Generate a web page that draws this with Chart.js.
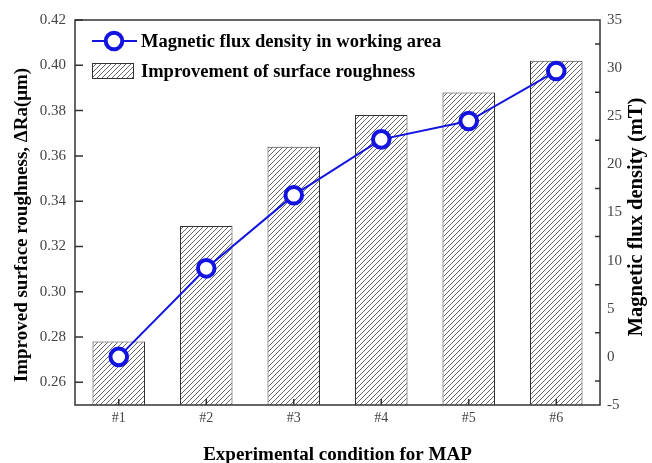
<!DOCTYPE html>
<html>
<head>
<meta charset="utf-8">
<script src="https://cdn.jsdelivr.net/npm/chart.js@4.4.0/dist/chart.umd.min.js"></script>
<style>
  html, body { margin: 0; padding: 0; background: #fff; }
</style>
</head>
<body>
<canvas id="mapChart" width="652" height="463"></canvas>
<script>
// MAP conditions vs. roughness improvement (bars) and flux density (line)
const conditions = ["#1", "#2", "#3", "#4", "#5", "#6"];
const roughnessGain = [0.278, 0.329, 0.364, 0.378, 0.388, 0.402];
const fluxDensity = [0.0, 9.2, 16.8, 22.6, 24.5, 29.7];
const roughnessTicks = [0.26, 0.28, 0.30, 0.32, 0.34, 0.36, 0.38, 0.40, 0.42];
const fluxTicks = [-5, 0, 5, 10, 15, 20, 25, 30, 35];
const fluxTickMarks = [-2.5, 2.5, 7.5, 12.5, 17.5, 22.5, 27.5, 32.5];

const serif = "'Liberation Serif', 'Times New Roman', serif";
const BLUE = "#1414e0";
const FRAME = "#333";

const canvas = document.getElementById("mapChart");
const ctx = canvas.getContext("2d");

// diagonal "////" fill for the bars
function makeHatch() {
  const size = 5;
  const tile = document.createElement("canvas");
  tile.width = size;
  tile.height = size;
  const g = tile.getContext("2d");
  g.fillStyle = "#fff";
  g.fillRect(0, 0, size, size);
  g.strokeStyle = "#555";
  g.lineWidth = 0.9;
  g.beginPath();
  g.moveTo(0, size); g.lineTo(size, 0);
  g.moveTo(-1, 1); g.lineTo(1, -1);
  g.moveTo(size - 1, size + 1); g.lineTo(size + 1, size - 1);
  g.stroke();
  return ctx.createPattern(tile, "repeat");
}
const hatch = makeHatch();

// rotated axis title, reading bottom to top
function sideTitle(ctx, text, x, y, size) {
  ctx.save();
  ctx.translate(x, y);
  ctx.rotate(-Math.PI / 2);
  ctx.textAlign = "center";
  ctx.textBaseline = "middle";
  ctx.fillStyle = "#000";
  ctx.font = "bold " + size + "px " + serif;
  ctx.fillText(text, 0, 0);
  ctx.restore();
}

// frame, inward tick marks, legend and the two y axis titles
const decorations = {
  id: "decorations",
  afterDatasetsDraw(chart) {
    const { ctx, chartArea: a, scales } = chart;
    ctx.save();
    ctx.strokeStyle = FRAME;
    ctx.lineWidth = 1.5;
    ctx.strokeRect(a.left, a.top, a.right - a.left, a.bottom - a.top);
    ctx.beginPath();
    roughnessTicks.forEach(v => {
      const y = scales.y.getPixelForValue(v);
      ctx.moveTo(a.left, y); ctx.lineTo(a.left + 8, y);
    });
    fluxTickMarks.forEach(v => {
      const y = scales.y1.getPixelForValue(v);
      ctx.moveTo(a.right, y); ctx.lineTo(a.right - 5, y);
    });
    conditions.forEach((c, i) => {
      const x = scales.x.getPixelForValue(i);
      ctx.moveTo(x, a.bottom); ctx.lineTo(x, a.bottom - 6);
    });
    ctx.stroke();
    ctx.restore();
  },
  afterDraw(chart) {
    const { ctx, chartArea: a } = chart;
    const [lineSet, barSet] = chart.data.datasets;
    const x0 = a.left + 17;
    const textX = a.left + 66;
    ctx.save();
    ctx.font = "bold 18.5px " + serif;
    ctx.fillStyle = "#000";
    ctx.textBaseline = "middle";

    // line entry
    const ly = a.top + 21;
    ctx.strokeStyle = lineSet.borderColor;
    ctx.lineWidth = lineSet.borderWidth;
    ctx.beginPath();
    ctx.moveTo(x0, ly); ctx.lineTo(x0 + 45, ly);
    ctx.stroke();
    ctx.beginPath();
    ctx.arc(x0 + 22, ly, lineSet.pointRadius, 0, Math.PI * 2);
    ctx.fillStyle = "#fff";
    ctx.fill();
    ctx.lineWidth = lineSet.pointBorderWidth;
    ctx.stroke();
    ctx.fillStyle = "#000";
    ctx.fillText(lineSet.label, textX, ly + 1);

    // bar entry
    const by = a.top + 43;
    ctx.fillStyle = barSet.backgroundColor;
    ctx.fillRect(x0, by, 42, 16);
    ctx.strokeStyle = barSet.borderColor;
    ctx.lineWidth = 1;
    ctx.strokeRect(x0 + 0.5, by + 0.5, 41, 15);
    ctx.fillStyle = "#000";
    ctx.fillText(barSet.label, textX, by + 9);
    ctx.restore();

    sideTitle(ctx, "Improved surface roughness, ΔRa(μm)", 22, 225, 19);
    sideTitle(ctx, "Magnetic flux density (mT)", 637, 217, 20.5);
  }
};

new Chart(ctx, {
  type: "bar",
  data: {
    labels: conditions,
    datasets: [
      {
        type: "line",
        label: "Magnetic flux density in working area",
        data: fluxDensity,
        yAxisID: "y1",
        borderColor: BLUE,
        borderWidth: 2,
        pointRadius: 8.3,
        pointBorderWidth: 4,
        pointBackgroundColor: "#fff",
        pointBorderColor: BLUE,
        tension: 0,
        order: 0
      },
      {
        type: "bar",
        label: "Improvement of surface roughness",
        data: roughnessGain,
        yAxisID: "y",
        backgroundColor: hatch,
        borderColor: FRAME,
        borderWidth: 1,
        categoryPercentage: 0.6,
        barPercentage: 1,
        order: 1
      }
    ]
  },
  options: {
    responsive: false,
    animation: false,
    devicePixelRatio: 1,
    events: [],
    layout: { padding: { top: 20 } },
    plugins: { legend: { display: false }, tooltip: { enabled: false } },
    scales: {
      x: {
        offset: true,
        grid: { display: false, drawTicks: false },
        border: { display: false },
        ticks: { color: "#444", padding: 5, font: { family: serif, size: 14 } },
        title: {
          display: true,
          text: "Experimental condition for MAP",
          color: "#000",
          font: { family: serif, size: 19, weight: "bold", lineHeight: 1 },
          padding: { top: 0, bottom: -2 }
        },
        afterFit: s => { s.height = 58; }
      },
      y: {
        position: "left",
        min: 0.25,
        max: 0.42,
        grid: { display: false, drawTicks: false },
        border: { display: false },
        afterBuildTicks: s => { s.ticks = roughnessTicks.map(v => ({ value: v })); },
        ticks: {
          color: "#444",
          padding: 9,
          font: { family: serif, size: 15 },
          callback: v => v.toFixed(2)
        },
        afterFit: s => { s.width = 75; }
      },
      y1: {
        position: "right",
        min: -5,
        max: 35,
        grid: { display: false, drawTicks: false },
        border: { display: false },
        afterBuildTicks: s => { s.ticks = fluxTicks.map(v => ({ value: v })); },
        ticks: { color: "#444", padding: 7, font: { family: serif, size: 15 } },
        afterFit: s => { s.width = 52; }
      }
    }
  },
  plugins: [decorations]
});
</script>
</body>
</html>
